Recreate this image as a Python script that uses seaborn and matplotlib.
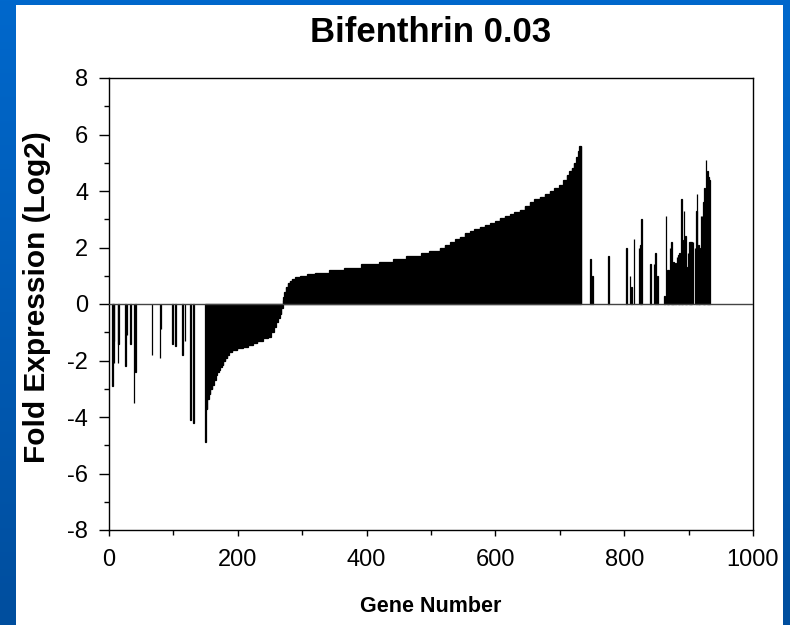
import numpy as np
import pandas as pd
import matplotlib
matplotlib.use("Agg")
import matplotlib.pyplot as plt
import seaborn as sns
from matplotlib.colors import LinearSegmentedColormap
from matplotlib.patches import Rectangle

# scattered down-regulated genes at the start of the list
neg_genes = [5, 7, 8, 14, 15, 26, 28, 33, 39, 41, 67, 79, 81, 99, 103, 114, 118, 127, 131]
neg_values = [-2.9, -1.3, -2.1, -2.1, -1.4, -2.2, -1.1, -1.4, -3.5, -2.4,
              -1.8, -1.9, -0.9, -1.4, -1.5, -1.8, -1.3, -4.1, -4.2]

# sorted block, read as steps: first gene of each step and its value
down_starts = [150, 151, 153, 156, 158, 161, 163, 166, 168, 171, 173, 176, 178, 181,
               184, 187, 192, 200, 208, 216, 224, 231, 239, 247, 252, 256, 260, 263, 266, 268]
down_values = [-4.9, -3.7, -3.35, -3.2, -3.0, -2.87, -2.7, -2.5, -2.4, -2.35, -2.22, -2.15,
               -2.0, -1.9, -1.8, -1.7, -1.63, -1.57, -1.51, -1.45, -1.39, -1.3, -1.22,
               -1.16, -1.0, -0.8, -0.65, -0.5, -0.35, -0.15]
up_starts = [270, 271, 273, 275, 278, 281, 284, 290, 297, 308, 320, 342, 366, 392, 420,
             442, 462, 485, 498, 514, 522, 530, 538, 545, 553, 561, 568, 576, 584, 592,
             600, 607, 615, 623, 630, 638, 646, 654, 661, 669, 677, 685, 692, 700, 706,
             711, 715, 719, 722, 726, 729, 731]
up_values = [0.14, 0.26, 0.44, 0.6, 0.73, 0.8, 0.88, 0.95, 1.0, 1.05, 1.11, 1.19, 1.29,
             1.4, 1.5, 1.59, 1.7, 1.79, 1.89, 2.0, 2.1, 2.2, 2.3, 2.38, 2.5, 2.6, 2.66,
             2.71, 2.8, 2.88, 2.95, 3.03, 3.1, 3.19, 3.26, 3.33, 3.48, 3.62, 3.7, 3.8,
             3.9, 4.01, 4.1, 4.21, 4.4, 4.57, 4.7, 4.8, 5.0, 5.2, 5.4, 5.6]
block_end = 734

# scattered up-regulated genes at the end
spike_genes = [748, 751, 776, 804, 809, 811, 815, 823, 825, 826, 827, 841, 846, 849, 852,
               863, 865, 867, 869, 871, 873, 875, 877, 880, 882, 884, 886, 889, 891, 893,
               895, 897, 899, 901, 903, 905, 907, 910, 912, 913, 915, 917, 919, 921, 923,
               925, 927, 929, 931, 932]
spike_values = [1.58, 1.0, 1.7, 2.0, 1.0, 0.6, 2.3, 2.0, 2.1, 1.4, 3.0, 1.4, 1.4, 1.8, 1.0,
                0.3, 3.1, 1.2, 1.2, 1.97, 2.2, 1.45, 1.5, 1.45, 1.65, 1.73, 1.8, 3.7, 2.27,
                3.3, 2.4, 1.3, 1.8, 2.2, 2.2, 2.2, 2.2, 2.0, 3.3, 3.9, 2.1, 2.0, 3.1, 3.1,
                3.6, 4.1, 5.1, 4.7, 4.5, 4.4]


def steps(starts, values, end):
    counts = np.diff(starts + [end])
    return list(range(starts[0], end)), list(np.repeat(values, counts))


down_g, down_v = steps(down_starts, down_values, up_starts[0])
up_g, up_v = steps(up_starts, up_values, block_end)

df = pd.DataFrame({
    "gene": neg_genes + down_g + up_g + spike_genes,
    "fold": neg_values + down_v + up_v + spike_values,
})

sns.set_style("ticks")
plt.rcParams["font.family"] = ["Liberation Sans", "DejaVu Sans"]
plt.rcParams["axes.unicode_minus"] = False
plt.rcParams["text.color"] = "black"
plt.rcParams["xtick.color"] = "black"
plt.rcParams["ytick.color"] = "black"

fig = plt.figure(figsize=(7.9, 6.25), dpi=100)

# blue slide background with white panel
bg = fig.add_axes([0, 0, 1, 1], zorder=-2)
cmap = LinearSegmentedColormap.from_list("slide", ["#0068CC", "#004E9E"])
bg.imshow(np.linspace(0, 1, 256).reshape(-1, 1), aspect="auto", cmap=cmap,
          extent=[0, 1, 0, 1])
bg.add_patch(Rectangle((16 / 790, 0), (783 - 16) / 790, 620 / 625,
                       facecolor="white", edgecolor="none"))
bg.set_xlim(0, 1)
bg.set_ylim(0, 1)
bg.axis("off")

ax = fig.add_axes([109 / 790, 95 / 625, 644 / 790, 452 / 625])
ax.set_facecolor("white")
sns.barplot(data=df, x="gene", y="fold", native_scale=True, color="black",
            width=1.0, linewidth=0.9, edgecolor="black", errorbar=None, ax=ax)
ax.axhline(0, color="#444444", lw=1.0, zorder=3)

ax.set_xlim(0, 1000)
ax.set_ylim(-8, 8)
ax.set_xticks(range(0, 1001, 200))
ax.set_xticks(range(100, 1000, 200), minor=True)
ax.set_yticks(range(-8, 9, 2))
ax.set_yticks(range(-7, 8, 2), minor=True)
ax.tick_params(axis="both", which="major", labelsize=17, length=6, width=1,
               color="black", labelcolor="black")
ax.tick_params(axis="y", which="major", length=7, pad=8)
ax.tick_params(axis="x", which="major", length=4, pad=10)
ax.tick_params(axis="both", which="minor", length=3.5, width=1, color="black")
for s in ax.spines.values():
    s.set_visible(True)
    s.set_linewidth(1)
    s.set_color("black")
ax.set_xlabel("")
ax.set_ylabel("")

fig.text(431 / 790, 1 - 32 / 625, "Bifenthrin 0.03", ha="center", va="center",
         fontsize=25, fontweight="bold", color="black")
fig.text(37 / 790, 1 - 297 / 625, "Fold Expression (Log2)", ha="center", va="center",
         rotation=90, fontsize=21.5, fontweight="bold", color="black")
fig.text(431 / 790, 1 - 607 / 625, "Gene Number", ha="center", va="center",
         fontsize=15.5, fontweight="bold", color="black")

fig.savefig("out.png", dpi=100)
